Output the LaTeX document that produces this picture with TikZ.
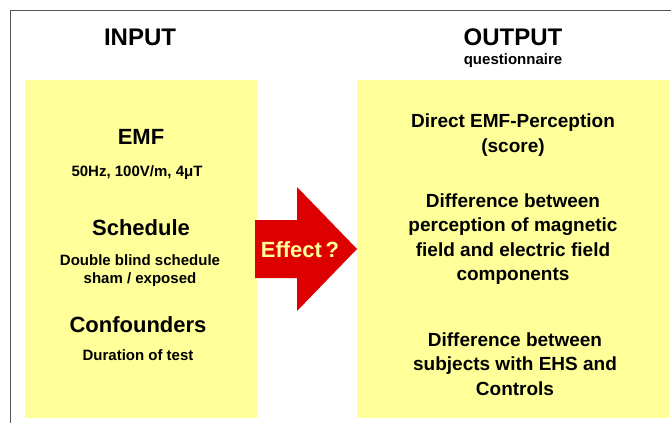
\documentclass[tikz,border=0pt]{standalone}
\usepackage{fontspec}
\setmainfont{Liberation Sans}
\usepackage{tikz}
\usetikzlibrary{positioning}

\definecolor{paleyellow}{HTML}{FFFF99}
\definecolor{arrowred}{HTML}{DD0000}
\definecolor{framegray}{HTML}{555555}

\tikzset{
  panel/.style={fill=paleyellow, draw=none, anchor=north west, inner sep=0pt},
  title/.style={font=\bfseries\fontsize{24}{26}\selectfont},
  heading/.style={font=\bfseries\fontsize{22}{24}\selectfont},
  detail/.style={font=\bfseries\fontsize{15}{18}\selectfont, align=center},
  result/.style={font=\bfseries\fontsize{19}{24.5}\selectfont, align=center},
}

\begin{document}
\begin{tikzpicture}[x=1pt, y=-1pt]
    \useasboundingbox (0,0) rectangle (671,423);
    % frame
    \draw[framegray, line width=1pt] (10,423) -- (10,10) -- (671,10);

    % panels
    \node[panel, minimum width=232pt, minimum height=338pt] (inbox) at (25,80) {};
    \node[panel, minimum width=312pt, minimum height=338pt] (outbox) at (357,80) {};

    \node[title] (input) at (140,37) {INPUT};
    \node[title] (output) at (513,37) {OUTPUT};
    \node[detail] (quest) at (513,61) {questionnaire};

    % input side
    \node[heading] (emf) at (141,137) {EMF};
    \node[detail] (emfval) at (137,173) {50Hz, 100V/m, 4μT};
    \node[heading] (sched) at (141,228) {Schedule};
    \node[detail] (schedval) at (140,271) {Double blind schedule\\sham / exposed};
    \node[heading] (conf) at (138,325) {Confounders};
    \node[detail] (confval) at (138,355) {Duration of test};

    % arrow
    \fill[arrowred] (255,220) -- (297,220) -- (297,187) -- (357,249)
      -- (297,311) -- (297,278) -- (255,278) -- cycle;
    \node[heading, text=paleyellow] (effect) at (300,250) {Effect\,?};

    % output side
    \node[result] (direct) at (513,135) {Direct EMF-Perception\\(score)};
    \node[result] (diff) at (513,239) {Difference between\\perception of magnetic\\field and electric field\\components};
    \node[result] (ehs) at (515,364) {Difference between\\subjects with EHS and\\Controls};
\end{tikzpicture}
\end{document}
